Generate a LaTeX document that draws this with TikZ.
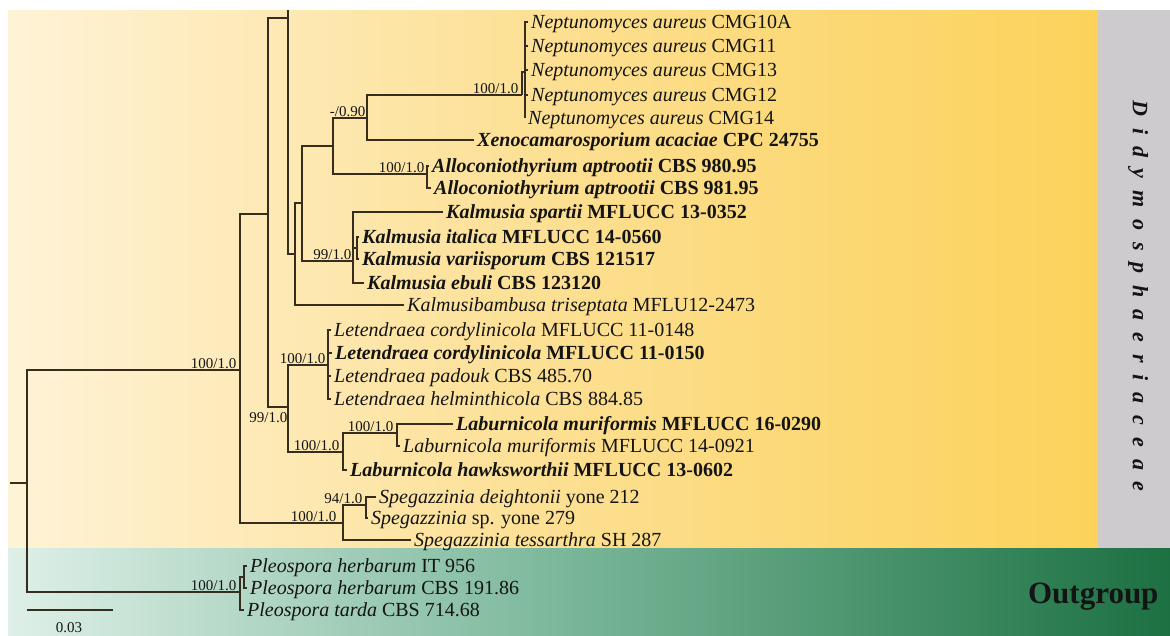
\documentclass[tikz,border=0pt]{standalone}
\usepackage{fontspec}
\setmainfont{Liberation Serif}
\newfontfamily\spacedfont[LetterSpace=54]{Liberation Serif}
\definecolor{ylw0}{RGB}{255,243,215}
\definecolor{ylwm}{RGB}{252,223,145}
\definecolor{ylw1}{RGB}{252,210,90}
\definecolor{grn0}{RGB}{222,240,232}
\definecolor{grnm}{RGB}{118,180,150}
\definecolor{grn1}{RGB}{28,112,66}
\definecolor{panelgray}{RGB}{206,203,206}
\definecolor{brline}{RGB}{55,45,30}
\definecolor{ink}{RGB}{20,20,20}
\newcommand{\tnorm}[2]{\textit{#1} #2}
\newcommand{\tbold}[2]{\textbf{\textit{#1} #2}}
\begin{document}
\begin{tikzpicture}[x=1pt,y=-1pt,
  branch/.style={draw=brline,line width=1.6pt},
  taxon/.style={anchor=west,inner xsep=3pt,inner ysep=0pt,text height=13.6pt,text depth=0pt,font=\fontsize{20}{22}\selectfont,text=ink},
  supp/.style={anchor=south east,inner sep=0.5pt,font=\fontsize{15}{17}\selectfont,text=ink}]
\useasboundingbox (0,0) rectangle (1170,635);
% backgrounds
\fill[white] (0,0) rectangle (1170,635);
\shade[left color=ylw0,right color=ylwm] (8,10) rectangle (560,548);
\shade[left color=ylwm,right color=ylw1] (559.5,10) rectangle (1098,548);
\fill[panelgray] (1098,10) rectangle (1170,548);
\shade[left color=grn0,right color=grnm] (8,548) rectangle (590,635);
\shade[left color=grnm,right color=grn1] (589.5,548) rectangle (1170,635);

% internal nodes
\coordinate (r0) at (10,483);
\coordinate (root) at (27,483);
\coordinate (I) at (240,370);
\coordinate (O) at (240,592);
\coordinate (O2) at (244,577);
\coordinate (J) at (268,214);
\coordinate (S) at (343,523);
\coordinate (S2) at (366,505);
\coordinate (A) at (288,18);
\coordinate (Atop) at (288,10);
\coordinate (B) at (295,254);
\coordinate (C) at (302,203);
\coordinate (D) at (333,146);
\coordinate (E) at (367,118);
\coordinate (N) at (522,95);
\coordinate (N2) at (525,72);
\coordinate (AL) at (427,174);
\coordinate (K) at (353,261);
\coordinate (K2) at (357,248);
\coordinate (L) at (288,407);
\coordinate (LE) at (328,365);
\coordinate (LB) at (343,452);
\coordinate (LM) at (397,433);

% tips
\node[taxon] (n1) at (528,22) {\tnorm{Neptunomyces aureus}{CMG10A}};
\node[taxon] (n2) at (528,46) {\tnorm{Neptunomyces aureus}{CMG11}};
\node[taxon] (n3) at (528,70) {\tnorm{Neptunomyces aureus}{CMG13}};
\node[taxon] (n4) at (528,95) {\tnorm{Neptunomyces aureus}{CMG12}};
\node[taxon] (n5) at (525,118) {\tnorm{Neptunomyces aureus}{CMG14}};
\node[taxon] (xe) at (474,140) {\tbold{Xenocamarosporium acaciae}{CPC 24755}};
\node[taxon] (al1) at (429,166) {\tbold{Alloconiothyrium aptrootii}{CBS 980.95}};
\node[taxon] (al2) at (431,188) {\tbold{Alloconiothyrium aptrootii}{CBS 981.95}};
\node[taxon] (ks) at (443,212) {\tbold{Kalmusia spartii}{MFLUCC 13-0352}};
\node[taxon] (ki) at (359,237) {\tbold{Kalmusia italica}{MFLUCC 14-0560}};
\node[taxon] (kv) at (359,259) {\tbold{Kalmusia variisporum}{CBS 121517}};
\node[taxon] (ke) at (364,283) {\tbold{Kalmusia ebuli}{CBS 123120}};
\node[taxon] (kb) at (404,305) {\tnorm{Kalmusibambusa triseptata}{MFLU12-2473}};
\node[taxon] (le1) at (331,330) {\tnorm{Letendraea cordylinicola}{MFLUCC 11-0148}};
\node[taxon] (le2) at (332,353) {\tbold{Letendraea cordylinicola}{MFLUCC 11-0150}};
\node[taxon] (le3) at (331,376) {\tnorm{Letendraea padouk}{CBS 485.70}};
\node[taxon] (le4) at (331,399) {\tnorm{Letendraea helminthicola}{CBS 884.85}};
\node[taxon] (lm1) at (453,424) {\tbold{Laburnicola muriformis}{MFLUCC 16-0290}};
\node[taxon] (lm2) at (400,446) {\tnorm{Laburnicola muriformis}{MFLUCC 14-0921}};
\node[taxon] (lh) at (347,470) {\tbold{Laburnicola hawksworthii}{MFLUCC 13-0602}};
\node[taxon] (sd) at (376,497) {\tnorm{Spegazzinia deightonii}{yone 212}};
\node[taxon] (ss) at (368,518) {\tnorm{Spegazzinia}{sp. yone 279}};
\node[taxon] (st) at (411,540) {\tnorm{Spegazzinia tessarthra}{SH 287}};
\node[taxon] (p1) at (247,566) {\tnorm{Pleospora herbarum}{IT 956}};
\node[taxon] (p2) at (247,588) {\tnorm{Pleospora herbarum}{CBS 191.86}};
\node[taxon] (p3) at (244,610) {\tnorm{Pleospora tarda}{CBS 714.68}};

% branches
\draw[branch] (r0) -- (root);
\draw[branch] (root) |- (I);
\draw[branch] (root) |- (O);
\draw[branch] (I) |- (J);
\draw[branch] (I) |- (S);
\draw[branch] (J) |- (A);
\draw[branch] (J) |- (L);
\draw[branch] (A) -- (Atop);
\draw[branch] (A) |- (B);
\draw[branch] (B) |- (C);
\draw[branch] (B) |- (kb.west);
\draw[branch] (C) |- (D);
\draw[branch] (C) |- (K);
\draw[branch] (D) |- (E);
\draw[branch] (D) |- (AL);
\draw[branch] (E) |- (N);
\draw[branch] (E) |- (xe.west);
\draw[branch] (N) |- (N2);
\draw[branch] (N2) |- (n1.west);
\draw[branch] (N2) |- (n2.west);
\draw[branch] (N2) |- (n3.west);
\draw[branch] (N2) |- (n4.west);
\draw[branch] (N2) |- (n5.west);
\draw[branch] (AL) |- (al1.west);
\draw[branch] (AL) |- (al2.west);
\draw[branch] (K) |- (ks.west);
\draw[branch] (K) |- (K2);
\draw[branch] (K) |- (ke.west);
\draw[branch] (K2) |- (ki.west);
\draw[branch] (K2) |- (kv.west);
\draw[branch] (L) |- (LE);
\draw[branch] (L) |- (LB);
\draw[branch] (LE) |- (le1.west);
\draw[branch] (LE) |- (le2.west);
\draw[branch] (LE) |- (le3.west);
\draw[branch] (LE) |- (le4.west);
\draw[branch] (LB) |- (LM);
\draw[branch] (LB) |- (lh.west);
\draw[branch] (LM) |- (lm1.west);
\draw[branch] (LM) |- (lm2.west);
\draw[branch] (S) |- (S2);
\draw[branch] (S) |- (st.west);
\draw[branch] (S2) |- (sd.west);
\draw[branch] (S2) |- (ss.west);
\draw[branch] (O) |- (O2);
\draw[branch] (O) |- (p3.west);
\draw[branch] (O2) |- (p1.west);
\draw[branch] (O2) |- (p2.west);

% support values
\node[supp] (sI) at (237,369) {100/1.0};
\node[supp] (sD) at (366,117) {-/0.90};
\node[supp] (sN) at (519,94) {100/1.0};
\node[supp] (sAL) at (425,173) {100/1.0};
\node[supp] (sK) at (352,260) {99/1.0};
\node[supp] (sLE) at (326,364) {100/1.0};
\node[supp,anchor=north east] (sL) at (288,412) {99/1.0};
\node[supp] (sLB) at (340,451) {100/1.0};
\node[supp] (sLM) at (394,432) {100/1.0};
\node[supp] (sS) at (337,522) {100/1.0};
\node[supp] (sS2) at (363,504) {94/1.0};
\node[supp] (sO) at (237,591) {100/1.0};

% scale bar
\coordinate (sb0) at (27,610);
\coordinate (sb1) at (113,610);
\draw[branch,line width=1.3pt] (sb0) -- (sb1);
\node[font=\fontsize{15}{17}\selectfont,text=ink] (sbl) at (69,628) {0.03};

% group labels
\node[rotate=-90,text=ink,font=\spacedfont\bfseries\itshape\fontsize{22}{24}\selectfont] (fam) at (1138,296) {Didymosphaeriaceae};
\node[anchor=east,text=ink,font=\bfseries\fontsize{31}{34}\selectfont] (og) at (1162,597) {Outgroup};
\end{tikzpicture}
\end{document}
